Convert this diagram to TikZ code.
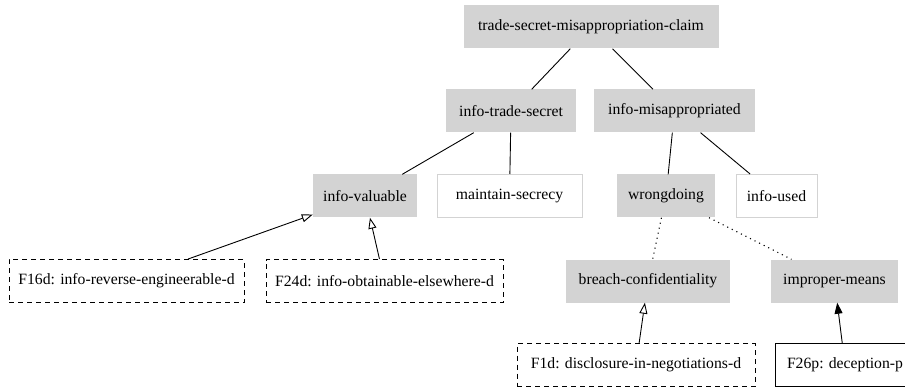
\documentclass[tikz,border=0pt]{standalone}
\usepackage{fontspec}
\setmainfont{Liberation Serif}
\usetikzlibrary{arrows.meta}
\definecolor{gvgray}{HTML}{D3D3D3}
\begin{document}
\begin{tikzpicture}[x=1pt,y=-1pt,
  base/.style={rectangle, inner sep=0pt, minimum height=43pt, font=\fontsize{15.7}{18}\selectfont},
  grayn/.style={base, fill=gvgray},
  whiten/.style={base, draw=gvgray, line width=1pt},
  factd/.style={base, draw=black, line width=0.9pt, dash pattern=on 5pt off 4pt},
  factp/.style={base, draw=black, line width=0.9pt},
  link/.style={line width=0.9pt},
  dotlink/.style={line width=1.1pt, dash pattern=on 1.1pt off 4pt},
  supp/.style={line width=0.9pt, -{Triangle[open, length=11pt, width=8pt]}},
  suppf/.style={line width=0.9pt, -{Triangle[length=11pt, width=8pt]}}]
\useasboundingbox (0,0) rectangle (905,390);

\node[grayn, minimum width=255pt] (top) at (591,27) {trade-secret-misappropriation-claim};
\node[grayn, minimum width=130pt] (its) at (511,111) {info-trade-secret};
\node[grayn, minimum width=161pt] (im) at (674.5,111) {info-misappropriated};
\node[grayn, minimum width=104pt] (iv) at (365,196) {info-valuable};
\node[whiten, minimum width=145pt] (ms) at (509.5,196) {maintain-secrecy};
\node[grayn, minimum width=98pt] (wr) at (666,196) {wrongdoing};
\node[whiten, minimum width=81pt] (iu) at (776.5,196) {info-used};
\node[factd, minimum width=235pt] (f16) at (126.5,281) {F16d: info-reverse-engineerable-d};
\node[factd, minimum width=237pt] (f24) at (384.5,281) {F24d: info-obtainable-elsewhere-d};
\node[grayn, minimum width=164pt] (bc) at (648,281) {breach-confidentiality};
\node[grayn, minimum width=127pt] (imp) at (834.5,281) {improper-means};
\node[factd, minimum width=238pt] (f1) at (636,365) {F1d: disclosure-in-negotiations-d};
\node[factp, minimum width=140pt] (f26) at (845,365) {F26p: deception-p};

\draw[link] (top) -- (its);
\draw[link] (top) -- (im);
\draw[link] (its) -- (iv);
\draw[link] (its) -- (ms);
\draw[link] (im) -- (wr);
\draw[link] (im) -- (iu);
\draw[dotlink] (wr) -- (bc);
\draw[dotlink] (wr) -- (imp);
\draw[supp] (f16) -- (iv);
\draw[supp] (f24) -- (iv);
\draw[supp] (f1) -- (bc);
\draw[suppf] (f26) -- (imp);
\end{tikzpicture}
\end{document}
